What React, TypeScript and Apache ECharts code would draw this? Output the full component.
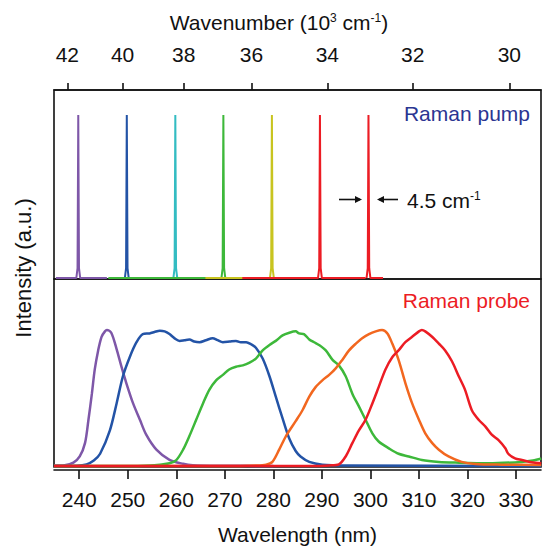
import React, { useEffect, useRef } from "react";
import * as echarts from "echarts";

// ---------- data ----------
const wavelengthTicks = [240, 250, 260, 270, 280, 290, 300, 310, 320, 330];
const wavenumberTicks = [42, 40, 38, 36, 34, 32, 30]; // 10^3 cm^-1

// Raman pump: peak centre (nm) and baseline extent (nm)
const pumpNames = ["pump 240", "pump 250", "pump 260", "pump 270", "pump 280", "pump 290", "pump 300"];
const pumpCenters = [239.8, 249.8, 259.8, 269.7, 279.7, 289.6, 299.6];
const pumpBaseFrom = [235.2, 249.4, 259.4, 246.0, 266.0, 273.6, 299.2];
const pumpBaseTo = [245.7, 250.2, 260.2, 266.3, 273.6, 299.0, 302.6];
const pumpColors = ["#7e57a8", "#2353a6", "#33bcc2", "#3db83a", "#c8c41f", "#ec1c24", "#ec1c24"];

// Raman probe spectra: [wavelength nm, normalised intensity]
const probePurple = [
  [234.8, 0.003], [237.0, 0.006], [238.8, 0.025], [240.1, 0.07], [241.2, 0.17], [241.9, 0.34],
  [242.6, 0.53], [243.2, 0.71], [243.9, 0.85], [244.6, 0.95], [245.3, 0.99], [245.7, 1.0],
  [246.6, 0.98], [247.7, 0.86], [248.7, 0.73], [249.7, 0.61], [251.1, 0.46], [252.5, 0.34],
  [253.8, 0.23], [255.9, 0.12], [258.6, 0.045], [261.4, 0.016], [263.4, 0.006], [270, 0.002], [280, 0.0],
];
const probeBlue = [
  [234.8, 0.0], [239.5, 0.002], [241.5, 0.012], [243.0, 0.04], [244.3, 0.09], [246.3, 0.26],
  [247.7, 0.46], [249.0, 0.66], [250.4, 0.8], [251.8, 0.91], [253.1, 0.97], [254.5, 0.975],
  [255.5, 0.985], [256.6, 0.995], [257.6, 0.99], [258.6, 0.97], [259.6, 0.94], [260.7, 0.92],
  [261.7, 0.925], [262.7, 0.93], [263.7, 0.915], [264.8, 0.91], [266.1, 0.925], [267.5, 0.94],
  [268.5, 0.925], [269.6, 0.91], [271.0, 0.915], [272.3, 0.92], [273.3, 0.91], [274.4, 0.91],
  [275.4, 0.895], [276.4, 0.87], [277.8, 0.79], [279.2, 0.66], [280.5, 0.51], [281.9, 0.35],
  [283.3, 0.2], [284.6, 0.11], [285.6, 0.07], [287.4, 0.03], [290.1, 0.01], [295, 0.004], [335.2, 0.0],
];
const probeGreen = [
  [234.8, 0.0], [250, 0.0], [254.5, 0.004], [256.6, 0.01], [258.6, 0.02], [260.0, 0.044],
  [261.4, 0.12], [262.7, 0.22], [264.1, 0.34], [265.5, 0.46], [266.8, 0.56], [268.2, 0.63],
  [269.6, 0.67], [270.9, 0.71], [272.3, 0.73], [273.7, 0.74], [275.1, 0.76], [276.4, 0.79],
  [277.8, 0.85], [279.2, 0.89], [280.5, 0.92], [281.9, 0.96], [283.3, 0.98], [284.6, 0.99],
  [285.3, 0.975], [286.3, 0.97], [287.4, 0.93], [288.4, 0.91], [289.4, 0.89], [290.8, 0.85],
  [292.2, 0.78], [293.5, 0.74], [294.9, 0.66], [296.3, 0.53], [297.6, 0.44], [299.0, 0.34],
  [300.4, 0.24], [301.7, 0.18], [303.8, 0.13], [305.8, 0.09], [307.9, 0.07], [310.6, 0.044],
  [314.1, 0.03], [317.5, 0.025], [324.3, 0.02], [331.2, 0.03], [333.5, 0.04], [335.2, 0.055],
];
const probeOrange = [
  [234.8, 0.0], [270, 0.0], [276.5, 0.004], [278.5, 0.01], [279.8, 0.03], [281.2, 0.12],
  [282.6, 0.22], [284.6, 0.33], [286.0, 0.41], [287.4, 0.51], [288.7, 0.58], [290.1, 0.63],
  [291.5, 0.67], [292.9, 0.72], [294.2, 0.78], [295.6, 0.85], [297.0, 0.9], [298.3, 0.94],
  [299.7, 0.97], [301.1, 0.99], [302.4, 1.0], [303.5, 0.975], [304.5, 0.9], [305.8, 0.78],
  [307.2, 0.61], [308.6, 0.46], [310.0, 0.34], [311.3, 0.24], [312.7, 0.17], [314.1, 0.12],
  [316.1, 0.07], [318.8, 0.03], [321.6, 0.015], [327, 0.01], [335.2, 0.008],
];
const probeRed = [
  [234.8, 0.0], [288, 0.0], [291.5, 0.004], [293.5, 0.012], [294.9, 0.07], [296.3, 0.17],
  [297.6, 0.26], [299.0, 0.34], [300.4, 0.46], [301.7, 0.58], [303.1, 0.71], [304.5, 0.8],
  [305.8, 0.85], [307.2, 0.91], [308.6, 0.95], [310.0, 0.99], [310.6, 1.0], [311.3, 0.99],
  [312.7, 0.95], [314.1, 0.9], [315.4, 0.85], [316.8, 0.77], [318.2, 0.66], [319.5, 0.56],
  [320.9, 0.41], [322.3, 0.34], [323.7, 0.29], [325.0, 0.23], [326.4, 0.19], [327.8, 0.13],
  [328.4, 0.09], [329.8, 0.056], [331.2, 0.044], [333.2, 0.027], [335.2, 0.02],
];
const probeNames = ["probe purple", "probe blue", "probe green", "probe orange", "probe red"];
const probeSeries = [probePurple, probeBlue, probeGreen, probeOrange, probeRed];
const probeColors = ["#7e57a8", "#2353a6", "#3db83a", "#f2671f", "#ec1c24"];

// ---------- chart ----------
const FONT = "Liberation Sans, Arial, Helvetica, sans-serif";
const WL_MIN = 234.8;
const WL_MAX = 335.15;
// upper (wavenumber) axis expressed in wavelength, as drawn in the original
const TOP_MIN = 235.23;
const TOP_MAX = 340.16;

function pumpData(i: number) {
  const c = pumpCenters[i];
  const pts: number[][] = [];
  const from = Math.min(pumpBaseFrom[i], c - 0.4);
  const to = Math.max(pumpBaseTo[i], c + 0.4);
  pts.push([from, 0]);
  pts.push([c - 0.4, 0]);
  pts.push([c - 0.15, 0.06]);
  pts.push([c, 1]);
  pts.push([c + 0.15, 0.06]);
  pts.push([c + 0.4, 0]);
  pts.push([to, 0]);
  return pts.sort((a, b) => a[0] - b[0]);
}

export default function App() {
  const ref = useRef<HTMLDivElement>(null);
  useEffect(() => {
    if (!ref.current) return;
    const chart = echarts.init(ref.current, null, { renderer: "svg" });
    const series: any[] = [];
    pumpNames.forEach((n, i) => {
      series.push({
        name: n,
        type: "line",
        xAxisIndex: 0,
        yAxisIndex: 0,
        data: pumpData(i),
        showSymbol: false,
        lineStyle: { color: pumpColors[i], width: 2 },
        z: 3,
      });
    });
    probeNames.forEach((n, i) => {
      series.push({
        name: n,
        type: "line",
        xAxisIndex: 2,
        yAxisIndex: 1,
        data: probeSeries[i],
        showSymbol: false,
        smooth: 0.3,
        lineStyle: { color: probeColors[i], width: 2.5 },
        z: 3 + i * 0.01,
      });
    });

    const supRich = { sup: { fontSize: 12, fontFamily: FONT, fill: "#111", verticalAlign: "top", lineHeight: 13 } };

    chart.setOption({
      animation: false,
      textStyle: { fontFamily: FONT },
      grid: [
        { left: 54, width: 487, top: 90, height: 189, show: true, borderColor: "#111", borderWidth: 1.6, backgroundColor: "transparent", containLabel: false },
        { left: 54, width: 487, top: 279, height: 188, show: true, borderColor: "#111", borderWidth: 1.6, backgroundColor: "transparent", containLabel: false },
      ],
      xAxis: [
        { type: "value", gridIndex: 0, min: WL_MIN, max: WL_MAX, show: false },
        {
          type: "value",
          gridIndex: 0,
          position: "top",
          min: TOP_MIN,
          max: TOP_MAX,
          axisLine: { show: true, onZero: false, lineStyle: { color: "#111", width: 1.6 } },
          axisTick: { show: true, inside: false, length: 7, customValues: wavenumberTicks.map((k) => 1e4 / k), lineStyle: { color: "#111", width: 1.6 } },
          axisLabel: {
            show: true,
            margin: 25,
            fontSize: 21,
            color: "#111",
            fontFamily: FONT,
            customValues: wavenumberTicks.map((k) => 1e4 / k),
            formatter: (v: number) => String(Math.round(1e4 / v)),
          },
          splitLine: { show: false },
        },
        {
          type: "value",
          gridIndex: 1,
          position: "bottom",
          offset: 3,
          min: WL_MIN,
          max: WL_MAX,
          name: "Wavelength (nm)",
          nameLocation: "middle",
          nameGap: 54,
          nameTextStyle: { fontSize: 21, color: "#111", fontFamily: FONT },
          axisLine: { show: true, onZero: false, lineStyle: { color: "#111", width: 1.6 } },
          axisTick: { show: true, inside: false, length: 9, customValues: wavelengthTicks, lineStyle: { color: "#111", width: 1.6 } },
          axisLabel: { show: true, margin: 19, fontSize: 21, color: "#111", fontFamily: FONT, customValues: wavelengthTicks },
          splitLine: { show: false },
        },
      ],
      yAxis: [
        { type: "value", gridIndex: 0, min: -0.006, max: 1.153, show: false },
        { type: "value", gridIndex: 1, min: -0.0074, max: 1.375, show: false },
      ],
      series,
      graphic: [
        {
          type: "text",
          x: 279,
          y: 22,
          style: {
            text: "Wavenumber (10{sup|3} cm{sup|-1})",
            fill: "#111",
            font: `21px ${FONT}`,
            align: "center",
            verticalAlign: "middle",
            rich: supRich,
          },
        } as any,
        {
          type: "text",
          x: 23,
          y: 268,
          rotation: Math.PI / 2,
          style: { text: "Intensity (a.u.)", fill: "#111", font: `22px ${FONT}`, align: "center", verticalAlign: "middle" },
        },
        {
          type: "text",
          x: 530,
          y: 113,
          style: { text: "Raman pump", fill: "#2b3592", font: `21px ${FONT}`, align: "right", verticalAlign: "middle" },
        },
        {
          type: "text",
          x: 530,
          y: 300,
          style: { text: "Raman probe", fill: "#ec1c24", font: `21px ${FONT}`, align: "right", verticalAlign: "middle" },
        },
        {
          type: "text",
          x: 407,
          y: 200,
          style: {
            text: "4.5 cm{sup|-1}",
            fill: "#111",
            font: `21px ${FONT}`,
            align: "left",
            verticalAlign: "middle",
            rich: supRich,
          },
        } as any,
        { type: "line", shape: { x1: 339, y1: 199.5, x2: 360, y2: 199.5 }, style: { stroke: "#111", lineWidth: 1.6 } },
        { type: "polygon", shape: { points: [[362, 199.5], [355, 196], [355, 203]] }, style: { fill: "#111" } },
        { type: "line", shape: { x1: 379, y1: 199.5, x2: 398, y2: 199.5 }, style: { stroke: "#111", lineWidth: 1.6 } },
        { type: "polygon", shape: { points: [[377, 199.5], [384, 196], [384, 203]] }, style: { fill: "#111" } },
      ],
    });
    return () => chart.dispose();
  }, []);
  return <div ref={ref} style={{ width: 547, height: 547, position: "absolute", left: 0, top: 0 }} />;
}
